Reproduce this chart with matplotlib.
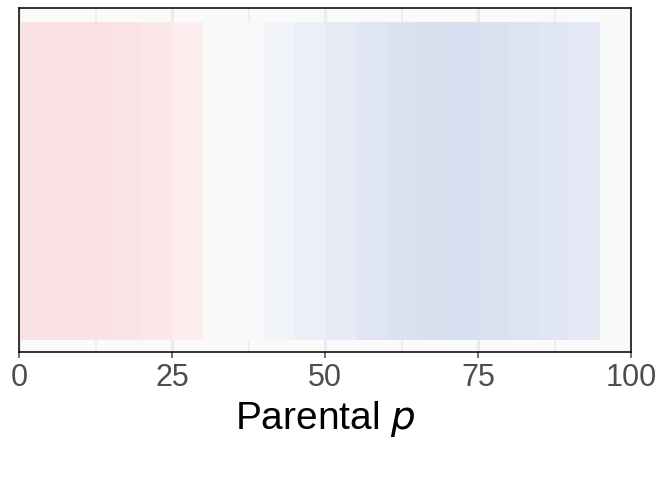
import matplotlib.pyplot as plt
import matplotlib as mpl

mpl.rcParams['font.family'] = ['Liberation Sans', 'DejaVu Sans']

# tile left edges (parental p), width 5
p_start = [0, 5, 10, 15, 20, 25, 30, 35, 40, 45, 50, 55, 60, 65, 70, 75, 80, 85, 90]
tile_colors = ['#FAE1E3', '#FAE1E3', '#FAE2E4', '#FAE4E5', '#FBE7E8', '#FCEEEE',
               '#F9F9F9', '#F9F9F9', '#F1F4F9', '#EBEFF7', '#E5EAF4', '#DFE5F2',
               '#DBE2F1', '#D8E0F0', '#D6E0F0', '#D9E1F1', '#DCE3F2', '#E0E6F3', '#E3E8F4']
width = 5

fig = plt.figure(figsize=(6.72, 4.8), dpi=100)
ax = fig.add_axes([19/672, 128/480, 612/672, 344/480])
ax.set_facecolor('#FAFAFA')
for v in [0, 25, 50, 75, 100]:
    ax.axvline(v, color='#EBEBEB', lw=2.2, zorder=0)
for v in [12.5, 37.5, 62.5, 87.5]:
    ax.axvline(v, color='#EBEBEB', lw=1.1, zorder=0)
ax.bar(p_start, 1, width=width, bottom=0, align='edge', color=tile_colors, lw=0, zorder=1)

ax.set_xlim(0, 100)
ax.set_ylim(-0.038, 1.044)
ax.set_yticks([])
ax.set_xticks([0, 25, 50, 75, 100])
ax.tick_params(axis='x', labelsize=22, colors='#4D4D4D', length=4, width=1.1, pad=4)
ax.set_xlabel('Parental $p$', fontsize=28, labelpad=4, color='black')
for s in ax.spines.values():
    s.set_color('black')
    s.set_linewidth(1.1)

fig.savefig('out.png', dpi=100)
